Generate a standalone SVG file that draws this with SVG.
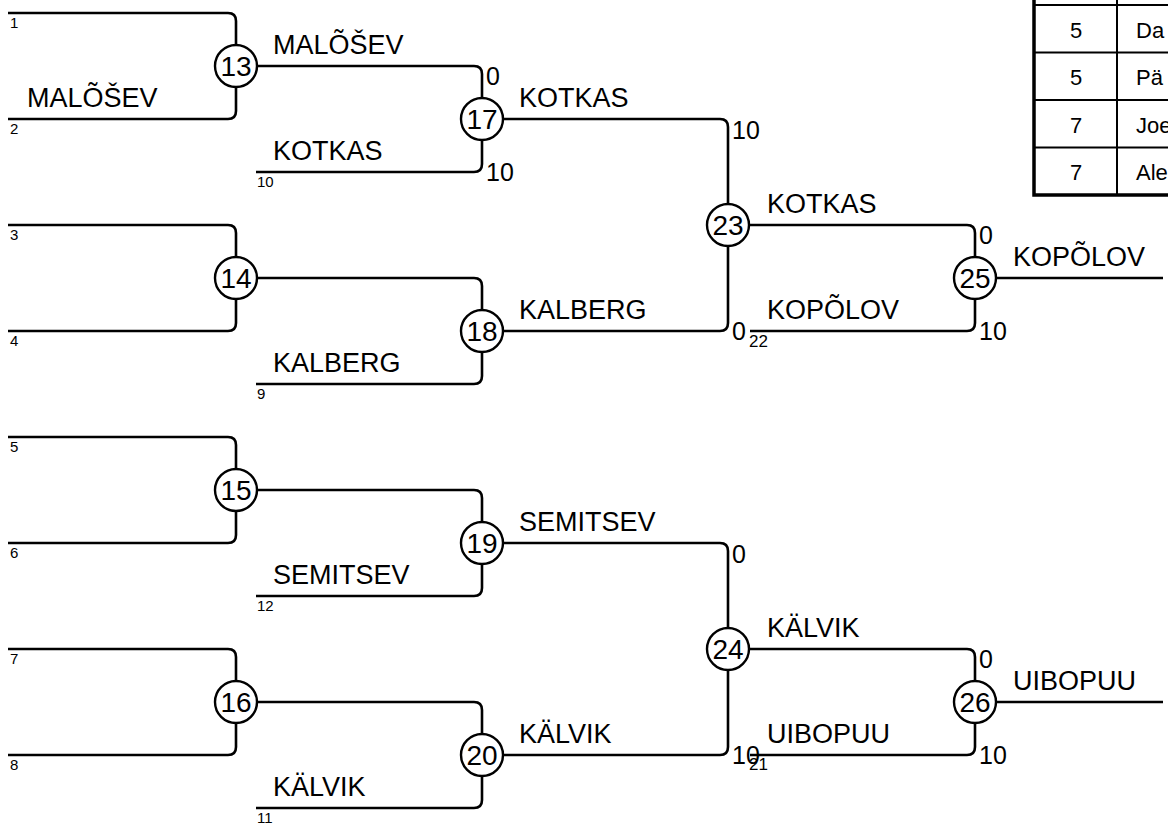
<svg xmlns="http://www.w3.org/2000/svg" width="1168" height="833" viewBox="0 0 1168 833">
<style>
.ln{fill:none;stroke:#000;stroke-width:2.6;stroke-linecap:butt}
.c{fill:#fff;stroke:#000;stroke-width:2.4}
.cn{font-family:"Liberation Sans",Arial,sans-serif;font-size:28px;text-anchor:middle;fill:#000}
.nm{font-family:"Liberation Sans",Arial,sans-serif;font-size:27px;fill:#000}
.sc{font-family:"Liberation Sans",Arial,sans-serif;font-size:25px;fill:#000}
.sm{font-family:"Liberation Sans",Arial,sans-serif;font-size:15px;fill:#000}
.sm2{font-family:"Liberation Sans",Arial,sans-serif;font-size:17px;fill:#000}
.tl{fill:none;stroke:#000;stroke-width:2}
.tb{fill:none;stroke:#000;stroke-width:3.5}
.tt{font-family:"Liberation Sans",Arial,sans-serif;font-size:22px;fill:#000}
</style>
<g id="connectors">
<path class="ln" d="M8,13 H228 Q236,13 236,21 V45"/>
<path class="ln" d="M8,119 H228 Q236,119 236,111 V87"/>
<path class="ln" d="M8,225 H228 Q236,225 236,233 V257"/>
<path class="ln" d="M8,331 H228 Q236,331 236,323 V299"/>
<path class="ln" d="M8,437 H228 Q236,437 236,445 V469"/>
<path class="ln" d="M8,543 H228 Q236,543 236,535 V511"/>
<path class="ln" d="M8,649 H228 Q236,649 236,657 V681"/>
<path class="ln" d="M8,755 H228 Q236,755 236,747 V723"/>
<path class="ln" d="M257,66 H474 Q482,66 482,74 V98"/>
<path class="ln" d="M256,172 H474 Q482,172 482,164 V140"/>
<path class="ln" d="M257,278 H474 Q482,278 482,286 V310"/>
<path class="ln" d="M256,384 H474 Q482,384 482,376 V352"/>
<path class="ln" d="M257,490 H474 Q482,490 482,498 V522"/>
<path class="ln" d="M256,596 H474 Q482,596 482,588 V564"/>
<path class="ln" d="M257,702 H474 Q482,702 482,710 V734"/>
<path class="ln" d="M256,808 H474 Q482,808 482,800 V776"/>
<path class="ln" d="M503,119 H720 Q728,119 728,127 V204"/>
<path class="ln" d="M503,331 H720 Q728,331 728,323 V246"/>
<path class="ln" d="M503,543 H720 Q728,543 728,551 V628"/>
<path class="ln" d="M503,755 H720 Q728,755 728,747 V670"/>
<path class="ln" d="M749,225 H967 Q975,225 975,233 V257"/>
<path class="ln" d="M750,331 H967 Q975,331 975,323 V299"/>
<path class="ln" d="M749,649 H967 Q975,649 975,657 V681"/>
<path class="ln" d="M750,755 H967 Q975,755 975,747 V723"/>
<path class="ln" d="M996,278 H1163"/>
<path class="ln" d="M996,702 H1163"/>
</g>
<g id="slots">
<text class="sm" x="10" y="28">1</text>
<text class="sm" x="10" y="134">2</text>
<text class="sm" x="10" y="240">3</text>
<text class="sm" x="10" y="346">4</text>
<text class="sm" x="10" y="452">5</text>
<text class="sm" x="10" y="558">6</text>
<text class="sm" x="10" y="664">7</text>
<text class="sm" x="10" y="770">8</text>
<text class="sm" x="257" y="187">10</text>
<text class="sm" x="257" y="399">9</text>
<text class="sm" x="257" y="611">12</text>
<text class="sm" x="257" y="823">11</text>
<text class="sm2" x="749" y="347">22</text>
<text class="sm2" x="749" y="770">21</text>
</g>
<g id="labels">
<text class="nm" x="27" y="107">MALÕŠEV</text>
<text class="nm" x="273" y="54">MALÕŠEV</text>
<text class="nm" x="273" y="160">KOTKAS</text>
<text class="nm" x="273" y="372">KALBERG</text>
<text class="nm" x="273" y="584">SEMITSEV</text>
<text class="nm" x="273" y="796">KÄLVIK</text>
<text class="nm" x="519" y="107">KOTKAS</text>
<text class="nm" x="519" y="319">KALBERG</text>
<text class="nm" x="519" y="531">SEMITSEV</text>
<text class="nm" x="519" y="743">KÄLVIK</text>
<text class="nm" x="767" y="213">KOTKAS</text>
<text class="nm" x="767" y="319">KOPÕLOV</text>
<text class="nm" x="767" y="637">KÄLVIK</text>
<text class="nm" x="767" y="743">UIBOPUU</text>
<text class="nm" x="1013" y="266">KOPÕLOV</text>
<text class="nm" x="1013" y="690">UIBOPUU</text>
</g>
<g id="scores">
<text class="sc" x="486" y="85">0</text>
<text class="sc" x="486" y="181">10</text>
<text class="sc" x="732" y="139">10</text>
<text class="sc" x="732" y="340">0</text>
<text class="sc" x="979" y="244">0</text>
<text class="sc" x="979" y="340">10</text>
<text class="sc" x="732" y="563">0</text>
<text class="sc" x="732" y="764">10</text>
<text class="sc" x="979" y="668">0</text>
<text class="sc" x="979" y="764">10</text>
</g>
<g id="n13"><circle class="c" cx="236" cy="66" r="21"/><text class="cn" x="236" y="76">13</text></g>
<g id="n14"><circle class="c" cx="236" cy="278" r="21"/><text class="cn" x="236" y="288">14</text></g>
<g id="n15"><circle class="c" cx="236" cy="490" r="21"/><text class="cn" x="236" y="500">15</text></g>
<g id="n16"><circle class="c" cx="236" cy="702" r="21"/><text class="cn" x="236" y="712">16</text></g>
<g id="n17"><circle class="c" cx="482" cy="119" r="21"/><text class="cn" x="482" y="129">17</text></g>
<g id="n18"><circle class="c" cx="482" cy="331" r="21"/><text class="cn" x="482" y="341">18</text></g>
<g id="n19"><circle class="c" cx="482" cy="543" r="21"/><text class="cn" x="482" y="553">19</text></g>
<g id="n20"><circle class="c" cx="482" cy="755" r="21"/><text class="cn" x="482" y="765">20</text></g>
<g id="n23"><circle class="c" cx="728" cy="225" r="21"/><text class="cn" x="728" y="235">23</text></g>
<g id="n24"><circle class="c" cx="728" cy="649" r="21"/><text class="cn" x="728" y="659">24</text></g>
<g id="n25"><circle class="c" cx="975" cy="278" r="21"/><text class="cn" x="975" y="288">25</text></g>
<g id="n26"><circle class="c" cx="975" cy="702" r="21"/><text class="cn" x="975" y="712">26</text></g>
<g id="table">
<path class="tl" d="M1034,5 H1170 M1034,52.5 H1170 M1034,100 H1170 M1034,147.5 H1170 M1117,0 V194"/>
<path class="tb" d="M1034,0 V195 H1170"/>
<text class="tt" x="1076" y="38" text-anchor="middle">5</text>
<text class="tt" x="1076" y="85" text-anchor="middle">5</text>
<text class="tt" x="1076" y="133" text-anchor="middle">7</text>
<text class="tt" x="1076" y="180" text-anchor="middle">7</text>
<text class="tt" x="1136" y="38">Da</text>
<text class="tt" x="1136" y="85">Pä</text>
<text class="tt" x="1136" y="133">Joe</text>
<text class="tt" x="1136" y="180">Ale</text>
</g>
</svg>
